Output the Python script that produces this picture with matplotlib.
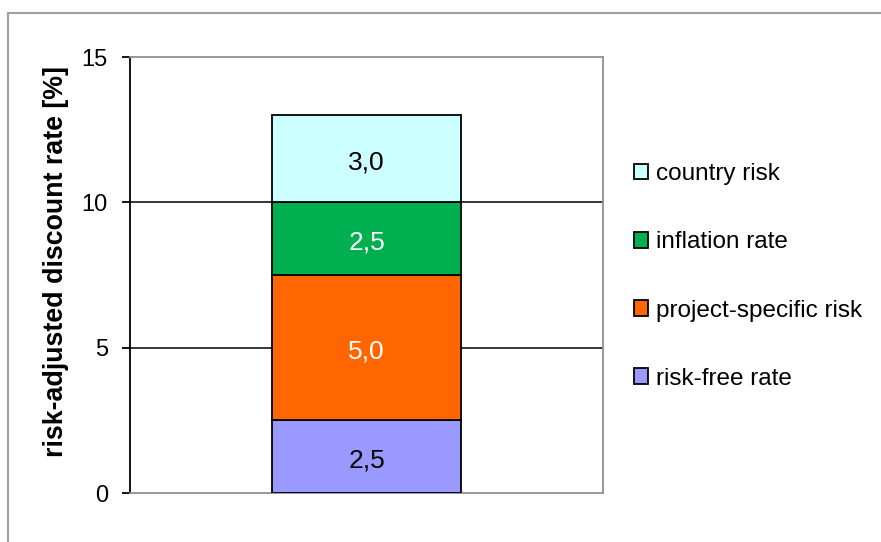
import matplotlib.pyplot as plt
from matplotlib.patches import Patch, Rectangle

# stacked components of the discount rate, bottom to top
components = ['risk-free rate', 'project-specific risk', 'inflation rate', 'country risk']
values = [2.5, 5.0, 2.5, 3.0]
colors = ['#9999FF', '#FF6600', '#00B050', '#CCFFFF']
text_colors = ['black', 'white', 'white', 'black']

plt.rcParams['font.family'] = ['Liberation Sans', 'DejaVu Sans']

fig = plt.figure(figsize=(8.81, 5.42), dpi=100)
ax = fig.add_axes([130 / 881, 1 - 493 / 542, 473 / 881, 436 / 542])

# grey frame around the chart area
fig.patches.append(Rectangle((8 / 881, -0.05), 1.2, 1 - 13 / 542 + 0.05,
                             transform=fig.transFigure, fill=False,
                             edgecolor='#a0a0a0', linewidth=1.5))

bottom = 0
for name, v, c, tc in zip(components, values, colors, text_colors):
    ax.bar(0, v, width=0.4, bottom=bottom, color=c, edgecolor='black',
           linewidth=1.3, zorder=3)
    ax.annotate(f'{v:.1f}'.replace('.', ','), (0, bottom + v / 2),
                xytext=(0, -2.5), textcoords='offset points', ha='center',
                va='center', fontsize=19, color=tc, zorder=4)
    bottom += v

ax.set_xlim(-0.5, 0.5)
ax.set_ylim(0, 15)
ax.set_yticks([0, 5, 10, 15])
ax.set_xticks([])
for y in [5, 10]:
    ax.axhline(y, color='black', linewidth=1.1, zorder=1)

for side in ['top', 'right', 'bottom']:
    ax.spines[side].set_color('#909090')
    ax.spines[side].set_linewidth(1.3)
ax.spines['left'].set_color('black')
ax.spines['left'].set_linewidth(1.3)
ax.tick_params(axis='y', length=6, width=1.3, labelsize=17, pad=10)

ax.set_ylabel('risk-adjusted discount rate [%]', fontsize=19.3,
              fontweight='bold')
ax.yaxis.set_label_coords(-0.128, 0.532)

handles = [Patch(facecolor=c, edgecolor='black', linewidth=1.3)
           for c in colors[::-1]]
fig.legend(handles, components[::-1], loc='center left',
           bbox_to_anchor=(612 / 881, 1 - 276.5 / 542), frameon=False,
           fontsize=17.5, handlelength=0.6, handleheight=0.6,
           handletextpad=0.3, labelspacing=1.9)

fig.savefig('out.png', dpi=100)
